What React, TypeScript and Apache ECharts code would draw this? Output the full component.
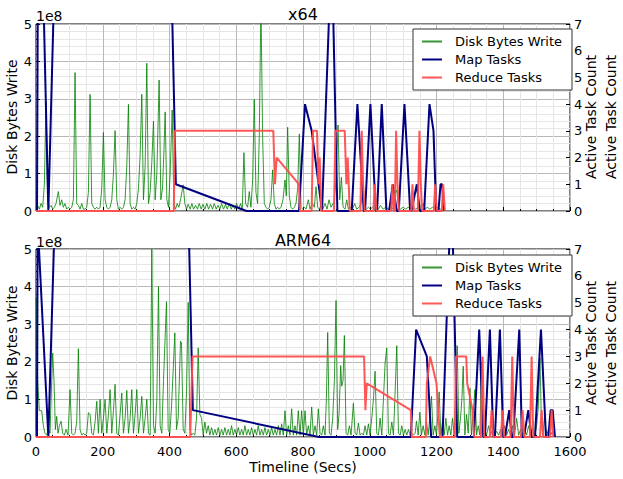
import React, { useEffect, useRef } from "react";
import * as echarts from "echarts";

// ---------- DATA (seconds, value) ----------
// Disk Bytes Write in units of 1e8 bytes
const x64Disk: [number, number][] = [
  [0,0.1],[5,0.15],[10,0.05],[15,0.2],[20,0.1],[25,0.7],[30,2.94],[35,0.3],[40,0.1],[45,0.15],[50,0.05],[55,0.1],[60,0.2],[67,0.52],[72,0.15],[77,0.3],[82,0.1],[87,0.2],[92,0.05],[97,0.1],[102,0.05],[107,0.1],[112,0.3],[117,3.7],[122,0.2],[127,0.15],[132,0.05],[137,0.2],[142,0.05],[147,0.05],[152,0.1],[157,0.5],[162,3.12],[167,0.2],[172,0.1],[177,0.05],[182,0.1],[187,0.05],[192,0.1],[197,0.6],[202,2.1],[207,0.3],[212,0.1],[217,0.05],[222,0.1],[227,0.3],[232,1.0],[237,2.15],[242,0.3],[247,0.05],[252,0.1],[257,0.05],[262,0.1],[267,0.3],[272,1.2],[277,2.85],[282,0.2],[287,0.05],[292,0.1],[297,0.05],[302,0.2],[307,0.6],[312,1.5],[317,3.12],[322,0.3],[327,1.2],[332,3.95],[337,0.2],[342,0.5],[347,1.3],[352,2.4],[357,0.3],[362,1.0],[369,3.5],[374,0.3],[379,0.6],[383,1.5],[387,2.65],[392,0.3],[397,0.1],[402,1.0],[408,2.7],[413,0.2],[418,0.05],[423,0.2],[428,0.1],[433,0.3],[441,0.7],
  [446,0.2],[451,0.05],[456,0.18],[462,0.05],[467,0.2],[472,0.05],[478,0.15],[484,0.05],[489,0.2],[495,0.05],[500,0.18],[506,0.05],[512,0.2],[517,0.05],[523,0.18],[529,0.05],[534,0.2],[540,0.05],[545,0.15],[551,0.05],[556,0.2],[562,0.05],[568,0.18],[573,0.05],[579,0.2],[585,0.05],[590,0.15],[596,0.05],[601,0.2],[607,0.05],[613,0.2],[618,0.05],
  [623,1.56],[628,0.2],[634,0.1],[639,0.52],[644,0.1],[649,0.8],[654,2.99],[659,0.5],[664,0.2],[669,2.0],[674,5.6],[679,2.0],[684,0.2],[689,0.1],[694,0.05],[699,0.1],[704,0.3],[709,1.1],[714,0.2],[719,0.05],[724,0.1],[729,0.05],[734,0.1],[740,0.3],[746,0.83],[750,0.4],[754,2.24],[759,0.4],[764,0.1],[769,0.05],[774,0.1],[779,0.2],[784,0.6],[789,2.06],[794,0.1],[799,0.05],[804,0.1],[809,0.05],[816,0.3],[821,0.05],[828,0.2],[834,0.1],[839,0.65],[844,0.1],[849,0.05],[854,0.15],[859,0.05],[866,0.2],[872,0.05],[878,0.3],[884,0.1],[893,0.25],[899,0.8],[905,2.3],[910,0.3],[915,0.9],[920,0.1],[926,0.05],[931,0.3],[936,0.05],[941,0.1],[948,0.05],[955,0.2],[961,0.05],[968,0.1],[974,0.2],[979,0.5],[984,0.1],[990,0.05],[996,0.1],[1002,0.05],[1008,0.1],[1014,0.05],[1020,0.1],[1026,0.05],[1032,0.15],[1040,0.05],[1048,0.1],[1056,0.05],[1064,0.1],[1070,0.05],[1076,0.45],[1081,0.56],[1086,0.1],[1092,0.05],[1100,0.1],[1108,0.05],[1115,0.1],[1122,0.05],[1130,0.1],[1138,0.05],[1146,0.1],[1154,0.15],[1160,0.2],[1166,0.05],[1172,0.1],[1180,0.05],[1188,0.1],[1196,0.05],[1204,0.1],[1212,0.05],[1220,0.0]
];

const x64Map: [number, number][] = [
  [0,0],[3,0],[6,10],[20,9.2],[37,0],[56,9],[400,12],[419,1],[631,0],[788,0],[806,4],[826,3],[857,0],[886,10],[903,0],[946,0],[963,4],[982,0],[986,0],[1002,4],[1018,0],[1022,0],[1036,4],[1050,0],[1058,0],[1069,1],[1081,0],[1087,0],[1104,4],[1121,0],[1125,0],[1141,1],[1150,0],[1163,0],[1179,4],[1191,3],[1199,0],[1206,0],[1212,1],[1217,1],[1222,0]
];

const x64Reduce: [number, number][] = [
  [0,0],[413,0],[416,3],[711,3],[716,1],[721,2],[788,1],[791,0],[826,0],[830,3],[842,3],[846,1],[850,2],[855,0],[893,0],[897,3],[925,3],[930,1],[934,2],[940,0],[972,0],[976,3],[980,1],[985,0],[1011,0],[1015,1],[1020,0],[1064,0],[1068,1],[1072,0],[1075,0],[1079,3],[1083,1],[1088,0],[1124,0],[1128,1],[1132,0],[1144,0],[1149,3],[1153,1],[1157,0],[1192,0],[1196,1],[1201,0],[1216,0],[1220,1],[1225,0]
];

const armDisk: [number, number][] = [
  [0,0.2],[1,3.7],[5,1.5],[10,0.7],[17,0.7],[22,0.3],[27,0.1],[32,0.05],[37,0.2],[42,0.1],[47,1.5],[50,2.23],[54,1.5],[58,0.2],[62,0.55],[66,0.1],[70,0.3],[75,0.42],[80,0.1],[85,0.05],[90,0.2],[96,0.05],[102,1.26],[107,0.1],[112,0.05],[117,0.1],[122,0.4],[127,2.35],[132,0.2],[137,0.05],[142,0.1],[147,0.05],[152,0.1],[157,0.65],[162,0.6],[167,0.1],[172,0.05],[177,0.4],[182,0.95],[187,0.1],[192,1.0],[197,0.1],[202,0.5],[207,1.0],[212,0.1],[217,0.6],[222,1.26],[227,0.1],[232,0.7],[237,1.4],[242,0.1],[247,0.05],[252,0.6],[257,1.17],[262,0.1],[267,0.5],[272,1.24],[277,0.1],[282,0.5],[287,1.26],[292,0.1],[297,0.6],[302,1.26],[307,0.1],[312,0.5],[317,1.08],[322,0.1],[327,0.5],[332,1.0],[337,0.1],[342,0.05],[347,5.0],[352,0.3],[357,0.1],[362,1.0],[367,4.0],[372,0.3],[377,0.1],[382,1.5],[391,3.6],[396,0.2],[401,0.1],[406,0.8],[416,2.77],[421,0.2],[426,0.5],[433,2.55],[436,2.5],[441,0.2],[446,0.1],[451,1.2],[456,3.58],[461,0.2],[466,0.05],[471,0.1],[476,0.05],[481,0.5],[486,2.37],[491,0.6],[496,0.5],[501,0.05],[506,0.4],[511,0.1],[516,0.3],[521,0.05],[526,0.25],[531,0.05],[536,0.2],[541,0.05],[546,0.25],[551,0.05],[556,0.2],[561,0.05],[566,0.25],[571,0.05],[576,0.2],[581,0.05],[586,0.3],[591,0.05],[596,0.2],[601,0.05],[606,0.25],[611,0.05],[616,0.2],[621,0.05],[626,0.3],[631,0.05],[636,0.2],[641,0.05],[646,0.25],[651,0.05],[656,0.2],[661,0.05],[666,0.3],[671,0.05],[676,0.2],[681,0.05],[686,0.25],[691,0.05],[696,0.2],[701,0.05],[706,0.25],[711,0.05],[716,0.2],[721,0.05],[726,0.3],[731,0.05],[736,0.35],[741,0.05],[746,0.7],[751,0.05],[756,0.3],[761,0.05],[766,0.75],[771,0.05],[776,0.3],[781,0.05],[786,0.7],[791,0.05],[796,0.7],[801,0.05],[806,0.7],[811,0.05],[816,0.3],[821,0.05],[826,0.8],[831,0.05],[836,0.3],[841,0.05],[846,0.75],[851,0.1],[856,0.05],[861,0.3],[866,0.05],[870,1.0],[874,2.78],[879,0.1],[884,0.05],[889,0.5],[894,1.5],[899,3.63],[904,0.2],[908,0.6],[913,1.9],[916,1.35],[920,1.5],[924,2.7],[929,0.1],[934,0.05],[939,0.3],[944,0.05],[951,0.9],[956,0.1],[961,0.05],[966,0.37],[971,0.05],[976,0.1],[981,0.05],[986,0.3],[991,0.05],[996,0.35],[1001,0.05],[1006,0.5],[1011,1.0],[1016,1.75],[1021,0.1],[1026,0.05],[1031,0.5],[1036,0.05],[1041,1.0],[1046,1.97],[1051,2.37],[1056,0.1],[1061,0.05],[1066,0.4],[1071,0.05],[1076,1.2],[1081,2.43],[1086,0.1],[1091,0.05],[1096,0.3],[1101,0.05],[1106,0.2],[1111,0.05],[1116,0.2],[1121,0.05],[1126,0.1],[1131,0.05],[1136,0.1],[1140,0.42],[1145,0.05],[1150,0.66],[1155,0.05],[1160,0.3],[1165,0.05],[1170,0.4],[1175,0.05],[1180,0.5],[1185,1.08],[1190,0.05],[1195,0.3],[1200,0.05],[1204,0.6],[1208,1.2],[1213,0.05],[1218,0.4],[1223,0.05],[1228,0.5],[1233,0.05],[1238,0.3],[1243,0.05],[1248,0.5],[1253,0.05],[1258,1.2],[1262,2.43],[1267,0.1],[1272,0.5],[1276,1.0],[1280,1.88],[1285,0.05],[1290,0.6],[1295,0.1],[1300,1.3],[1305,0.05],[1310,0.64],[1315,1.26],[1320,0.05],[1325,0.3],[1330,0.05],[1335,2.0],[1340,0.05],[1345,0.2],[1350,0.05],[1356,0.3],[1362,0.05],[1368,0.2],[1374,0.05],[1380,0.15],[1386,0.05],[1392,0.2],[1398,0.05],[1404,0.3],[1410,0.05],[1416,0.2],[1422,0.05],[1428,0.3],[1434,0.05],[1440,0.5],[1446,0.05],[1452,0.2],[1458,0.05],[1464,0.2],[1470,0.05],[1476,0.3],[1482,0.05],[1488,0.2],[1494,0.05],[1500,0.3],[1505,0.8],[1510,2.1],[1514,0.5],[1518,0.05],[1524,0.5],[1530,0.05],[1536,0.2],[1542,0.05],[1548,0.15],[1555,0.1]
];

const armMap: [number, number][] = [
  [0,0],[3,0],[5,8],[37,0],[57,8.5],[450,12],[470,1],[848,0],[1123,0],[1139,4],[1171,3],[1184,0],[1218,0],[1245,9.5],[1262,0],[1312,0],[1328,4],[1340,0],[1345,0],[1360,4],[1370,0],[1375,0],[1390,4],[1400,0],[1405,0],[1418,1],[1425,0],[1430,0],[1448,4],[1456,0],[1462,0],[1475,1],[1485,0],[1495,0],[1513,4],[1528,0],[1535,0],[1542,1],[1548,1],[1555,0]
];

const armReduce: [number, number][] = [
  [0,0],[462,0],[469,3],[983,3],[987,1],[991,2],[1123,1],[1126,0],[1168,0],[1171,2],[1181,3],[1200,2],[1205,1],[1210,0],[1255,0],[1258,3],[1289,3],[1292,2],[1308,1],[1313,0],[1333,0],[1338,3],[1343,0],[1360,0],[1365,1],[1370,0],[1393,0],[1398,1],[1403,0],[1422,0],[1427,3],[1432,0],[1453,0],[1458,1],[1463,0],[1480,0],[1485,3],[1490,0],[1510,0],[1515,1],[1520,0],[1540,0],[1545,1],[1550,0]
];

const titles = ["x64", "ARM64"];
const seriesNames = ["Disk Bytes Write", "Map Tasks", "Reduce Tasks"];
const BYTES_UNIT = 1e8;

const FONT = "DejaVu Sans";
const GREEN = "#008000";
const NAVY = "#000080";
const RED = "#ff4d4d";

export default function App() {
  const ref = useRef<HTMLDivElement>(null);
  useEffect(() => {
    if (!ref.current) return;
    const chart = echarts.init(ref.current, null, { renderer: "svg" });
    const grids = [
      { left: 36, top: 24, width: 534, height: 187 },
      { left: 36, top: 249, width: 534, height: 188 },
    ];
    const xAxes = grids.map((_, i) => ({
      type: "value",
      gridIndex: i,
      min: 0,
      max: 1600,
      interval: 200,
      axisLine: { show: false },
      axisTick: { show: true, inside: true, length: 4, lineStyle: { color: "#000" } },
      minorTick: { show: true, splitNumber: 4, length: 2, lineStyle: { color: "#000" } },
      splitLine: { show: true, lineStyle: { color: "#b8b8b8", width: 1 } },
      minorSplitLine: { show: true, lineStyle: { color: "#e6e6e6", width: 1 } },
      axisLabel: {
        show: i === 1,
        color: "#000",
        fontSize: 13,
        fontFamily: FONT,
        margin: 8,
        formatter: (v: number) => String(v),
      },
    }));
    const yAxes: any[] = [];
    grids.forEach((_, i) => {
      yAxes.push({
        type: "value",
        gridIndex: i,
        position: "left",
        min: 0,
        max: 5 * BYTES_UNIT,
        interval: BYTES_UNIT,
        axisLine: { show: false },
        axisTick: { show: true, inside: true, length: 4, lineStyle: { color: "#000" } },
        minorTick: { show: true, splitNumber: 5, length: 2, lineStyle: { color: "#000" } },
        splitLine: { show: true, lineStyle: { color: "#b8b8b8" } },
        minorSplitLine: { show: true, lineStyle: { color: "#e6e6e6" } },
        axisLabel: {
          color: "#000",
          fontSize: 13,
          fontFamily: FONT,
          margin: 4,
          formatter: (v: number) => String(Math.round(v / BYTES_UNIT)),
        },
      });
      yAxes.push({
        type: "value",
        gridIndex: i,
        position: "right",
        min: 0,
        max: 7,
        interval: 1,
        axisLine: { show: false },
        axisTick: { show: true, inside: true, length: 4, lineStyle: { color: "#000" } },
        splitLine: { show: false },
        axisLabel: { color: "#000", fontSize: 13, fontFamily: FONT, margin: 4 },
      });
    });

    const toBytes = (d: [number, number][]) => d.map(([t, v]) => [t, v * BYTES_UNIT]);
    const datasets = [
      [toBytes(x64Disk), x64Map, x64Reduce],
      [toBytes(armDisk), armMap, armReduce],
    ];
    const colors = [GREEN, NAVY, RED];
    const widths = [1, 2, 2];
    const opac = [0.8, 1, 0.95];
    const series: any[] = [];
    datasets.forEach((set, gi) => {
      set.forEach((data, si) => {
        series.push({
          type: "line",
          name: seriesNames[si],
          xAxisIndex: gi,
          yAxisIndex: gi * 2 + (si === 0 ? 0 : 1),
          data,
          symbol: "none",
          showSymbol: false,
          clip: true,
          z: 2 + si,
          color: colors[si],
          itemStyle: { color: colors[si], opacity: opac[si] },
          lineStyle: { color: colors[si], width: widths[si], opacity: opac[si] },
        });
      });
    });

    const legends = [29, 255].map((top) => ({
      orient: "vertical",
      left: 413,
      top,
      data: seriesNames,
      icon: "rect",
      itemWidth: 20,
      itemHeight: 2,
      itemGap: 5,
      padding: [6, 10, 6, 9],
      borderColor: "#333",
      borderWidth: 1,
      backgroundColor: "#fff",
      selectedMode: false,
      textStyle: { fontSize: 13, fontFamily: FONT, color: "#000", padding: [0, 0, 0, 8] },
      z: 10,
    }));

    const txt = (text: string, x: number, y: number, opts: any = {}) => ({
      type: "text",
      x,
      y,
      rotation: opts.rotation || 0,
      z: 20,
      style: {
        text,
        fontSize: opts.fontSize || 14,
        fontFamily: FONT,
        fill: "#000",
        textAlign: opts.align || "center",
        align: opts.align || "center",
        textVerticalAlign: opts.valign || "middle",
        verticalAlign: opts.valign || "middle",
      },
    });

    const graphic: any[] = [
      txt(titles[0], 303, 14, { fontSize: 16 }),
      txt(titles[1], 303, 240, { fontSize: 16 }),
      txt("1e8", 36, 23, { align: "left", valign: "bottom", fontSize: 14 }),
      txt("1e8", 36, 249, { align: "left", valign: "bottom", fontSize: 14 }),
      txt("Disk Bytes Write", 12, 117, { rotation: Math.PI / 2 }),
      txt("Disk Bytes Write", 12, 343, { rotation: Math.PI / 2 }),
      txt("Active Task Count", 591, 117, { rotation: Math.PI / 2 }),
      txt("Active Task Count", 611, 117, { rotation: Math.PI / 2 }),
      txt("Active Task Count", 591, 343, { rotation: Math.PI / 2 }),
      txt("Active Task Count", 611, 343, { rotation: Math.PI / 2 }),
      txt("Timeline (Secs)", 303, 467),
    ];

    chart.setOption({
      animation: false,
      backgroundColor: "#fff",
      grid: grids.map((g) => ({ ...g, show: true, borderColor: "#000", borderWidth: 1, backgroundColor: "transparent" })),
      xAxis: xAxes,
      yAxis: yAxes,
      legend: legends,
      series,
      graphic,
    });
    return () => chart.dispose();
  }, []);
  return (
    <div
      ref={ref}
      style={{ position: "fixed", left: 0, top: 0, width: 623, height: 479, background: "#fff" }}
    />
  );
}
